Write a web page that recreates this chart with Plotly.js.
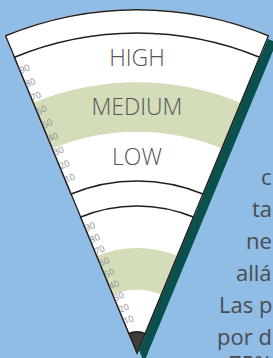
<!DOCTYPE html>
<html>
<head>
<meta charset="utf-8">
<script src="https://cdn.plot.ly/plotly-3.0.1.min.js"></script>
<style>
  html, body { margin: 0; padding: 0; overflow: hidden; background: #8fbde6; }
  #chart { width: 290px; height: 370px; }
</style>
</head>
<body>
<div id="chart"></div>
<script>
// ---- data ----
const bandLabels = ['LOW', 'MEDIUM', 'HIGH'];
const bandStart = [0, 33.3, 66.7];
const bandEnd = [33.3, 66.7, 100];
const highlightBand = 'MEDIUM';
const tickValues = [10, 20, 30, 40, 50, 60, 70, 80, 90];
const tickLabels = ['10', '20', '30', '40', '50', '60', '70', '80', '90'];
const textLines = ['c', 'ta', 'ne', 'allá', 'Las p', 'por d', '75%'];

// ---- geometry (radial units = px) ----
const W = 290, H = 370;
const R_OUT = 346;
const UP = {r0: 174, r1: 322};
const LO = {r0: 23, r1: 149};
const TIP = 23;
const SECTOR = [67.5, 112.5];
const mapUp = v => UP.r0 + v / 100 * (UP.r1 - UP.r0);
const mapLo = v => LO.r0 + v / 100 * (LO.r1 - LO.r0);

const GREEN = '#d3ddba', DARK = '#231f20', TEAL = '#0a514d', BLUE = '#8fbde6';

const hiIdx = bandLabels.indexOf(highlightBand);
const traces = [];

traces.push({type: 'barpolar', subplot: 'polar', theta: [90], width: [45], base: [0], r: [R_OUT],
  marker: {color: TEAL, line: {width: 0}}, hoverinfo: 'skip'});

traces.push({type: 'barpolar', subplot: 'polar2', theta: [90, 90], width: [45, 45],
  base: [mapUp(bandStart[hiIdx]), mapLo(bandStart[hiIdx])],
  r: [mapUp(bandEnd[hiIdx]) - mapUp(bandStart[hiIdx]), mapLo(bandEnd[hiIdx]) - mapLo(bandStart[hiIdx])],
  marker: {color: GREEN, line: {width: 0}}, hoverinfo: 'skip'});
traces.push({type: 'barpolar', subplot: 'polar2', theta: [90], width: [45], base: [0], r: [TIP],
  marker: {color: '#3d3d3d', line: {width: 0}}, hoverinfo: 'skip'});
traces.push({type: 'barpolar', subplot: 'polar2', theta: [90, 90], width: [45, 45],
  base: [UP.r0, LO.r0], r: [UP.r1 - UP.r0, LO.r1 - LO.r0],
  marker: {color: 'rgba(0,0,0,0)', line: {width: 1.6, color: DARK}}, hoverinfo: 'skip'});
traces.push({type: 'barpolar', subplot: 'polar2', theta: [90], width: [45], base: [0], r: [R_OUT],
  marker: {color: 'rgba(0,0,0,0)', line: {width: 2.8, color: DARK}}, hoverinfo: 'skip'});
traces.push({type: 'scatterpolar', subplot: 'polar2', mode: 'text',
  theta: bandLabels.map(() => 90),
  r: bandLabels.map((b, i) => mapUp((bandStart[i] + bandEnd[i]) / 2) - 2.5),
  text: bandLabels, textposition: 'middle center',
  textfont: {family: 'Open Sans', size: 23, color: '#555557', weight: 300},
  hoverinfo: 'skip'});

const polarCommon = {
  sector: SECTOR, hole: 0, barmode: 'overlay',
  angularaxis: {visible: false, rotation: 0, direction: 'counterclockwise'},
};

const layout = {
  width: W, height: H,
  margin: {l: 0, r: 0, t: 0, b: 0},
  paper_bgcolor: BLUE,
  showlegend: false,
  polar: Object.assign({}, polarCommon, {
    domain: {x: [11.6 / W, 276.4 / W], y: [1 - 362 / H, 1 - 16 / H]},
    bgcolor: TEAL,
    radialaxis: {visible: false, range: [0, R_OUT]}
  }),
  polar2: Object.assign({}, polarCommon, {
    domain: {x: [4.6 / W, 269.4 / W], y: [1 - 355 / H, 1 - 9 / H]},
    bgcolor: 'white',
    radialaxis: {
      visible: true, range: [0, R_OUT], angle: 112.5, side: 'clockwise',
      showline: false, showgrid: false, ticks: '', tickangle: 90,
      tickmode: 'array',
      tickvals: tickValues.map(mapLo).concat(tickValues.map(mapUp)),
      ticktext: tickLabels.concat(tickLabels),
      tickfont: {family: 'Open Sans', size: 9, color: '#8c8c8c'}
    }
  }),
  annotations: textLines.map((t, i) => ({
    xref: 'paper', yref: 'paper',
    x: 274 / W,
    y: 1 - ([183, 215, 247, 279, 311, 343, 370][i] - 7) / H,
    xanchor: 'right', yanchor: 'middle', showarrow: false,
    text: t, font: {family: 'Open Sans', size: 22, color: '#4b4b4d'}
  }))
};

Plotly.newPlot('chart', traces, layout, {staticPlot: true, displayModeBar: false});
</script>
</body>
</html>
